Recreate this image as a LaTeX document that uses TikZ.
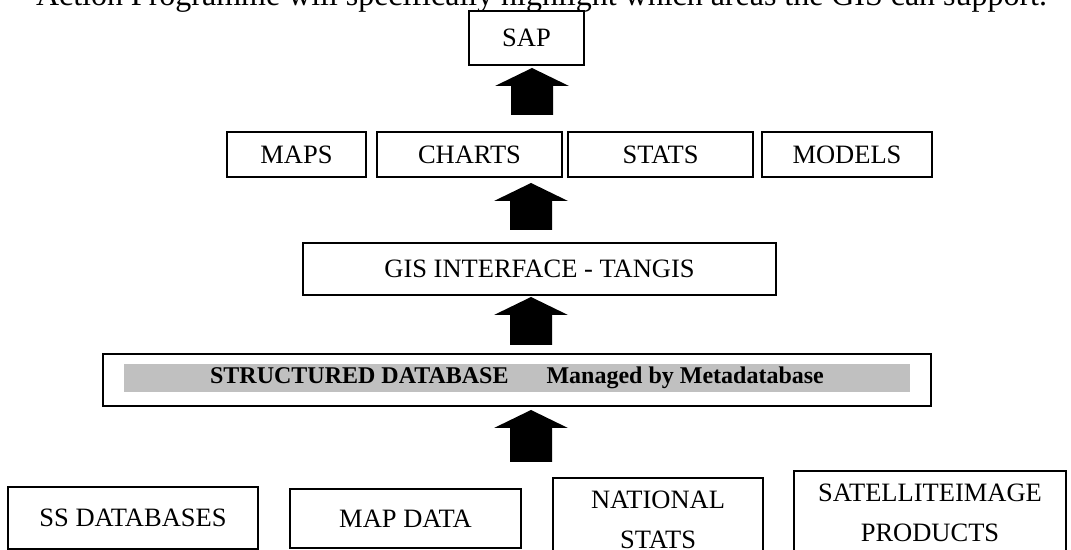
\documentclass[tikz,border=0pt]{standalone}
\usepackage{fontspec}
\setmainfont{Liberation Serif}
\definecolor{barshade}{RGB}{192,192,192}
\begin{document}
\begin{tikzpicture}[x=0.5pt,y=-0.5pt,
  txt/.style={font=\fontsize{13.25pt}{20pt}\selectfont},
  box/.style={txt,draw,line width=1pt,inner sep=0pt,align=center},
  bar/.style={fill=barshade,inner sep=0pt,font=\fontsize{12pt}{14pt}\selectfont\bfseries},
  uparrow/.pic={\fill[black] (-21,0) -- (-21,{-(#1-18)}) -- (-37,{-(#1-18)}) -- (0,{-#1}) -- (37,{-(#1-18)}) -- (21,{-(#1-18)}) -- (21,0) -- cycle;}
]
\clip (0,0) rectangle (1071,550);
\useasboundingbox (0,0) rectangle (1071,550);

% intro line (cut off at the top)
\node[anchor=base,inner sep=0pt,font=\fontsize{16pt}{19pt}\selectfont] (intro) at (541.5,6)
  {\makebox[505.5pt][s]{Action Programme will specifically highlight which areas the GIS can support.}};

% top
\node[box,minimum width=57.5pt,minimum height=27pt] (sap) at (526.5,38) {SAP};

% outputs row
\node[box,minimum width=69.5pt,minimum height=22.5pt] (maps) at (296.5,154.5) {MAPS};
\node[box,minimum width=92.5pt,minimum height=22.5pt] (charts) at (469.5,154.5) {CHARTS};
\node[box,minimum width=92.5pt,minimum height=22.5pt] (stats) at (660.5,154.5) {STATS};
\node[box,minimum width=85pt,minimum height=22.5pt] (models) at (847,154.5) {MODELS};

% GIS interface
\node[box,minimum width=236.5pt,minimum height=26pt] (gis) at (539.5,269) {GIS INTERFACE - TANGIS};

% structured database
\node[box,minimum width=414pt,minimum height=26pt] (sdb) at (517,380) {};
\node[bar,minimum width=393pt,minimum height=14pt] (sdbbar) at (517,378)
  {STRUCTURED DATABASE\hspace{19pt}Managed by Metadatabase};

% sources
\node[box,minimum width=125pt,minimum height=31pt] (ssdb) at (133,518) {SS DATABASES};
\node[box,minimum width=115.5pt,minimum height=29.5pt] (mapdata) at (405.5,518.5) {MAP DATA};
\node[box,minimum width=105pt,minimum height=41.5pt] (natstats) at (658,519.5) {NATIONAL\\STATS};
\node[box,minimum width=136pt,minimum height=42pt] (satimg) at (930,513) {SATELLITEIMAGE\\PRODUCTS};

% block arrows
\pic (arrowsap) at (532,115) {uparrow=47};
\pic (arrowout) at (531,230) {uparrow=47};
\pic (arrowgis) at (531,345) {uparrow=48};
\pic (arrowsdb) at (531,462) {uparrow=52};
\end{tikzpicture}
\end{document}
